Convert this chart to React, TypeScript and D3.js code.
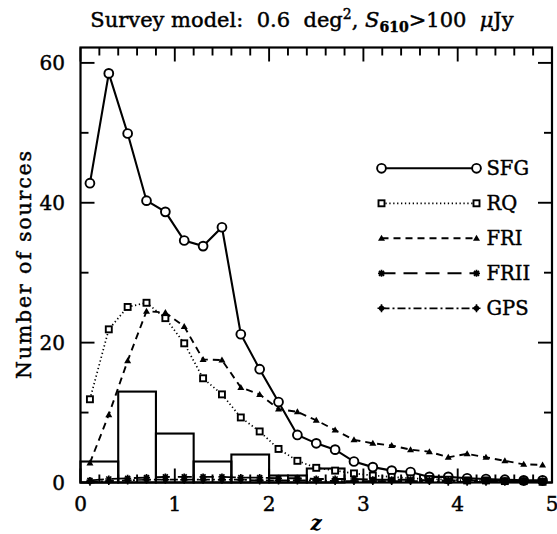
import React from "react";
import * as d3 from "d3";

const zMid = [0.1,0.3,0.5,0.7,0.9,1.1,1.3,1.5,1.7,1.9,2.1,2.3,2.5,2.7,2.9,3.1,3.3,3.5,3.7,3.9,4.1,4.3,4.5,4.7,4.9];
const sfg = [42.8,58.5,49.9,40.3,38.7,34.6,33.8,36.5,21.2,16.2,11.5,6.8,5.6,4.7,3.0,2.2,1.7,1.5,0.8,0.8,0.6,0.5,0.4,0.3,0.3];
const rq = [11.9,21.9,25.1,25.7,23.5,19.9,14.9,12.6,9.3,7.3,4.8,3.1,2.1,1.7,1.3,1.0,0.8,0.6,0.5,0.4,0.3,0.3,0.2,0.2,0.1];
const fri = [2.8,9.7,17.4,24.5,24.3,22.3,17.6,17.5,13.6,12.6,10.5,10.1,8.9,7.5,6.1,5.6,5.3,4.7,4.4,3.6,4.1,3.6,3.1,2.6,2.5];
const frii = [0.3,0.5,0.6,0.7,0.8,0.8,0.8,0.8,0.7,0.7,0.6,0.6,0.5,0.5,0.5,0.4,0.4,0.4,0.3,0.3,0.3,0.3,0.2,0.2,0.2];
const gps = [0.1,0.2,0.3,0.4,0.4,0.4,0.4,0.4,0.4,0.3,0.3,0.3,0.3,0.2,0.2,0.2,0.2,0.2,0.2,0.1,0.1,0.1,0.1,0.1,0.1];

const histEdges = [0,0.4,0.8,1.2,1.6,2.0,2.4,2.8];
const histCounts = [3,13,7,3,4,1,2];

const xTicks = [0,1,2,3,4,5];
const yTicks = [0,20,40,60];

const FONT = "'DejaVu Serif', serif";
const TS = 0.45; // text stroke for heavier look

const x = d3.scaleLinear().domain([0,5]).range([80.5,552]);
const y = d3.scaleLinear().domain([0,62.2]).range([482.5,47.5]);

type Mk = "circle"|"square"|"tri"|"ast"|"star";

function Marker({cx,cy,kind}:{cx:number;cy:number;kind:Mk}) {
  if (kind==="circle") return <circle cx={cx} cy={cy} r={4.4} fill="white" stroke="black" strokeWidth={1.9}/>;
  if (kind==="square") return <rect x={cx-3} y={cy-3} width={6} height={6} fill="white" stroke="black" strokeWidth={1.9}/>;
  if (kind==="tri") return <path d={`M${cx-3.5},${cy+2.5}L${cx+3.5},${cy+2.5}L${cx},${cy-3.5}Z`} fill="black"/>;
  if (kind==="ast") return <path d={`M${cx-3.5},${cy}H${cx+3.5}M${cx},${cy-3.5}V${cy+3.5}M${cx-2.5},${cy-2.5}L${cx+2.5},${cy+2.5}M${cx-2.5},${cy+2.5}L${cx+2.5},${cy-2.5}`} stroke="black" strokeWidth={1.7}/>;
  return <g><circle cx={cx} cy={cy} r={2.7} fill="black"/><path d={`M${cx-4},${cy}H${cx+4}M${cx},${cy-4}V${cy+4}`} stroke="black" strokeWidth={1.6}/></g>;
}

const series: {name:string;vals:number[];kind:Mk;dash:string;w:number}[] = [
  {name:"SFG",vals:sfg,kind:"circle",dash:"",w:2.1},
  {name:"RQ",vals:rq,kind:"square",dash:"1.3 2.6",w:1.7},
  {name:"FRI",vals:fri,kind:"tri",dash:"7 5",w:1.9},
  {name:"FRII",vals:frii,kind:"ast",dash:"14 8",w:1.9},
  {name:"GPS",vals:gps,kind:"star",dash:"8 3 2 3",w:1.7},
];

export default function App() {
  const line = d3.line<number>().x((_,i)=>x(zMid[i])).y(v=>y(v));
  const minorX = d3.range(0,5.0001,0.2);
  const minorY = d3.range(0,62,10);
  const [L,R] = x.range();
  const [B,T] = y.range();
  const legX0 = 381.5, legX1 = 476.5, legY0 = 168.3, legDy = 35;
  return (
    <svg width={557} height={534} style={{position:"absolute",left:0,top:0,background:"white"}}>
      <rect x={0} y={0} width={557} height={534} fill="white"/>
      <text x={302} y={27} textAnchor="middle" fontFamily={FONT} fontSize={21} fill="black" stroke="black" strokeWidth={TS} style={{whiteSpace:"pre"}}>
        <tspan>Survey model:  0.6  deg</tspan>
        <tspan fontSize={14} dy={-8}>2</tspan>
        <tspan dy={8}>, </tspan>
        <tspan fontStyle="italic">S</tspan>
        <tspan fontSize={14} dy={5} fontWeight="bold">610</tspan>
        <tspan dy={-5}>&gt;100  </tspan>
        <tspan fontStyle="italic">μ</tspan>
        <tspan>Jy</tspan>
      </text>
      {/* histogram */}
      {histCounts.map((c,i)=>(
        <rect key={i} x={x(histEdges[i])} y={y(c)} width={x(histEdges[i+1])-x(histEdges[i])} height={y(0)-y(c)} fill="none" stroke="black" strokeWidth={2.1}/>
      ))}
      {/* series */}
      {series.map(s=>(
        <g key={s.name}>
          <path d={line(s.vals) as string} fill="none" stroke="black" strokeWidth={s.w} strokeDasharray={s.dash}/>
          {s.vals.map((v,i)=><Marker key={i} cx={x(zMid[i])} cy={y(v)} kind={s.kind}/>)}
        </g>
      ))}
      {/* legend */}
      {series.map((s,i)=>{
        const ly = legY0 + i*legDy;
        return (
          <g key={"l"+s.name}>
            <line x1={legX0} x2={legX1} y1={ly} y2={ly} stroke="black" strokeWidth={s.w} strokeDasharray={s.dash}/>
            <Marker cx={legX0} cy={ly} kind={s.kind}/>
            <Marker cx={legX1} cy={ly} kind={s.kind}/>
            <text x={legX1+10} y={ly+7} fontFamily={FONT} fontSize={19.5} fill="black" stroke="black" strokeWidth={TS}>{s.name}</text>
          </g>
        );
      })}
      {/* frame */}
      <rect x={L} y={T} width={R-L} height={B-T} fill="none" stroke="black" strokeWidth={2.2}/>
      {minorX.map((t,i)=>{
        const major = Math.abs(t-Math.round(t))<1e-6;
        const len = major?14:8;
        return <g key={"xt"+i}>
          <line x1={x(t)} x2={x(t)} y1={B} y2={B-len} stroke="black" strokeWidth={1.9}/>
          <line x1={x(t)} x2={x(t)} y1={T} y2={T+len} stroke="black" strokeWidth={1.9}/>
        </g>;
      })}
      {minorY.map((t,i)=>{
        const major = t%20===0;
        const len = major?14:8;
        return <g key={"yt"+i}>
          <line x1={L} x2={L+len} y1={y(t)} y2={y(t)} stroke="black" strokeWidth={1.9}/>
          <line x1={R} x2={R-len} y1={y(t)} y2={y(t)} stroke="black" strokeWidth={1.9}/>
        </g>;
      })}
      {xTicks.map(t=>(
        <text key={"xl"+t} x={x(t)} y={511} textAnchor="middle" fontFamily={FONT} fontSize={20} fill="black" stroke="black" strokeWidth={TS}>{t}</text>
      ))}
      {yTicks.map(t=>(
        <text key={"yl"+t} x={65} y={y(t)+7} textAnchor="end" fontFamily={FONT} fontSize={20} fill="black" stroke="black" strokeWidth={TS}>{t}</text>
      ))}
      <text x={x(2.5)} y={530} textAnchor="middle" fontFamily={FONT} fontSize={20} fontStyle="italic" fontWeight="bold" fill="black">z</text>
      <text transform={`translate(31,265) rotate(-90)`} textAnchor="middle" fontFamily={FONT} fontSize={20.5} textLength={228} lengthAdjust="spacing" fill="black" stroke="black" strokeWidth={TS}>Number of sources</text>
    </svg>
  );
}
